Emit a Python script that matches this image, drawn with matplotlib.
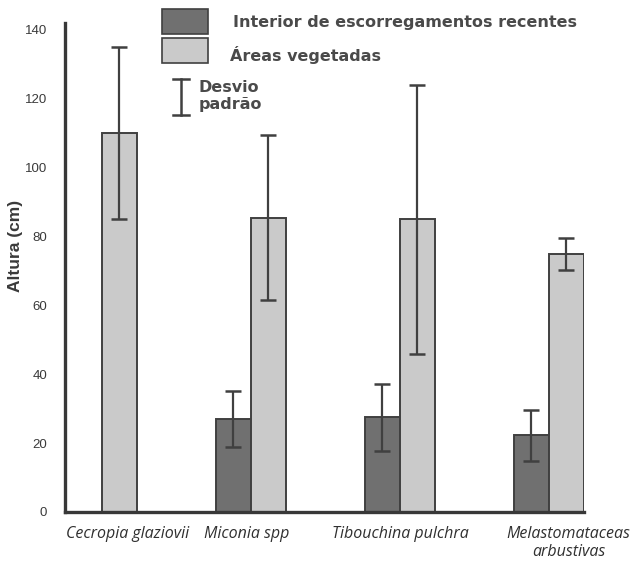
import numpy as np
import matplotlib
matplotlib.use("Agg")
import matplotlib.pyplot as plt
from matplotlib.patches import Rectangle
from matplotlib.lines import Line2D

# Mean plant height (cm) and standard deviation per taxon
categories = ["Cecropia glaziovii", "Miconia spp", "Tibouchina pulchra",
              "Melastomataceas\narbustivas"]
escorregamentos = [np.nan, 27.0, 27.5, 22.3]
escorregamentos_sd = [np.nan, 8.0, 9.8, 7.4]
vegetadas = [110.0, 85.5, 85.0, 75.0]
vegetadas_sd = [25.0, 24.0, 39.0, 4.6]
yticks = [0, 20, 40, 60, 80, 100, 120, 140]

series_labels = ["Interior de escorregamentos recentes", "Áreas vegetadas"]
sd_label = "Desvio\npadrão"

dark_fill = "#707070"
light_fill = "#cacaca"
edge = "#404040"
axis_col = "#383838"
text_col = "#3a3a3a"

W, H = 634, 563
fig = plt.figure(figsize=(W / 100, H / 100), dpi=100)
fig.patch.set_facecolor("white")

def fx(px):
    return px / W

def fy(py):
    return 1 - py / H

ax = fig.add_axes([fx(65), fy(512), fx(584) - fx(65), fy(23) - fy(512)])

x = np.arange(len(categories))
w = 0.235
err_kw = dict(ecolor=edge, elinewidth=1.6, capsize=5.5, capthick=1.8)

esc = np.array(escorregamentos)
mask = ~np.isnan(esc)
ax.bar(x[mask] - w / 2, esc[mask], width=w, color=dark_fill, edgecolor=edge,
       linewidth=1.4, yerr=np.array(escorregamentos_sd)[mask],
       error_kw=err_kw, zorder=2)
ax.bar(x + w / 2, vegetadas, width=w, color=light_fill, edgecolor=edge,
       linewidth=1.4, yerr=vegetadas_sd, error_kw=err_kw, zorder=2)

ax.set_xlim(-0.248, 3.235)
ax.set_ylim(0, 142)
ax.set_yticks(yticks)
ax.set_yticklabels([str(v) for v in yticks], family="Liberation Sans",
                   fontsize=9.5, color=text_col)
ax.tick_params(axis="y", length=0, pad=13)
ax.set_xticks([])

for s in ["top", "right"]:
    ax.spines[s].set_visible(False)
for s in ["left", "bottom"]:
    ax.spines[s].set_linewidth(2.4)
    ax.spines[s].set_color(axis_col)
    ax.spines[s].set_zorder(3)

fig.text(fx(16), fy(246), "Altura (cm)", rotation=90, ha="center",
         va="center", fontsize=12.5, fontweight="bold",
         family="Liberation Sans", color=text_col)

# Category names under each group
label_offsets = [0.17, -0.03, 0.0, 0.13]
for xi, off, name in zip(x, label_offsets, categories):
    ax.text(xi + off, -4.0, name, ha="center", va="top", fontsize=11.5,
            style="italic", family="Open Sans", color="#303030",
            linespacing=1.15)

# Legend drawn in figure space
for (y0, y1), col in [((9, 34), dark_fill), ((38, 63), light_fill)]:
    fig.patches.append(Rectangle((fx(162), fy(y1)), fx(208) - fx(162),
                                 fy(y0) - fy(y1), transform=fig.transFigure,
                                 facecolor=col, edgecolor=edge, linewidth=1.2))
legend_font = dict(fontsize=11.5, family="DejaVu Sans", fontweight="bold",
                   color="#4a4a4a")
fig.text(fx(233), fy(22), series_labels[0], ha="left", va="center",
         **legend_font)
fig.text(fx(230), fy(55), series_labels[1], ha="left", va="center",
         **legend_font)

cx = fx(181)
fig.lines.append(Line2D([cx, cx], [fy(79), fy(115)], transform=fig.transFigure,
                        color=edge, linewidth=1.8))
for yy in (79, 115):
    fig.lines.append(Line2D([fx(173), fx(189)], [fy(yy), fy(yy)],
                            transform=fig.transFigure, color=edge,
                            linewidth=1.8))
fig.text(fx(199), fy(96), sd_label, ha="left", va="center",
         linespacing=1.2, **legend_font)

fig.savefig("out.png", dpi=100, facecolor="white")
